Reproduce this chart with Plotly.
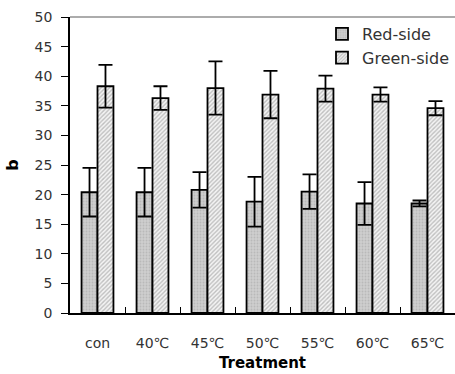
import plotly.graph_objects as go

# Treatment groups and mean b values with standard deviations
treatments = ["con", "40℃", "45℃", "50℃", "55℃", "60℃", "65℃"]
red_side = [20.4, 20.4, 20.8, 18.8, 20.5, 18.5, 18.5]
red_err = [4.1, 4.1, 3.0, 4.2, 2.9, 3.6, 0.5]
green_side = [38.3, 36.3, 38.0, 36.9, 37.9, 36.9, 34.6]
green_err = [3.6, 2.0, 4.5, 4.0, 2.2, 1.2, 1.2]
y_ticks = list(range(0, 51, 5))

font_main = "DejaVu Sans, sans-serif"

fig = go.Figure()
fig.add_trace(go.Bar(
    name="Red-side", x=treatments, y=red_side,
    marker=dict(color="#c6c6c6",
                line=dict(color="black", width=1.8),
                pattern=dict(shape=".", size=3, solidity=0.3,
                             fgcolor="#a4a4a4", bgcolor="#cecece")),
    error_y=dict(type="data", array=red_err, visible=True,
                 color="black", thickness=1.8, width=7),
))
fig.add_trace(go.Bar(
    name="Green-side", x=treatments, y=green_side,
    marker=dict(color="#d8d8d8",
                line=dict(color="black", width=1.8),
                pattern=dict(shape="/", size=3, solidity=0.45,
                             fgcolor="#8a8a8a", bgcolor="#f4f4f4")),
    error_y=dict(type="data", array=green_err, visible=True,
                 color="black", thickness=1.8, width=7),
))

# light frame line along the top of the plot area
fig.add_shape(type="line", xref="paper", yref="paper",
              x0=0, x1=1, y0=1, y1=1,
              line=dict(color="#909090", width=1.5))

fig.update_layout(
    width=455, height=374,
    margin=dict(l=70, r=0, t=17, b=61),
    paper_bgcolor="white", plot_bgcolor="white",
    barmode="group", bargap=0.42, bargroupgap=0.0,
    font=dict(family=font_main, size=14, color="#333333"),
    showlegend=True,
    legend=dict(x=0.655, y=1.0, xanchor="left", yanchor="top",
                bgcolor="rgba(0,0,0,0)", font=dict(size=16, color="#333333"),
                itemwidth=30),
    xaxis=dict(
        showline=True, linecolor="black", linewidth=1.8,
        ticks="inside", ticklen=6, tickcolor="black", tickwidth=1,
        tickson="boundaries", showgrid=False, zeroline=False,
        ticklabelstandoff=16,
        tickfont=dict(size=14, color="#333333"),
        title=dict(text="<b>Treatment</b>", standoff=8,
                   font=dict(size=15, color="black")),
    ),
    yaxis=dict(
        range=[0, 50], tickvals=y_ticks,
        showline=True, linecolor="black", linewidth=1.8,
        ticks="outside", ticklen=7, tickcolor="black", tickwidth=1,
        showgrid=False, zeroline=False,
        ticklabelstandoff=6,
        tickfont=dict(size=14, color="#333333"),
        title=dict(text="<b>b</b>", standoff=12,
                   font=dict(size=16, color="black")),
    ),
)

fig.write_html("out.html")
